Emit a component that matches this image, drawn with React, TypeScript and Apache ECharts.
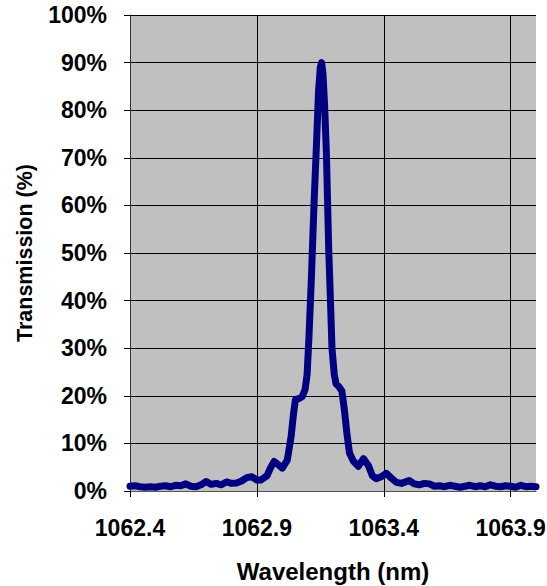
import React, { useEffect, useRef } from "react";
import * as echarts from "echarts";

const wavelength = [
  1062.40, 1062.42, 1062.44, 1062.46, 1062.48, 1062.50, 1062.52, 1062.54, 1062.56, 1062.58,
  1062.60, 1062.62, 1062.64, 1062.66, 1062.68, 1062.70, 1062.72, 1062.74, 1062.76, 1062.78,
  1062.80, 1062.82, 1062.84, 1062.86, 1062.88, 1062.90, 1062.915, 1062.94, 1062.955, 1062.968,
  1062.985, 1063.00, 1063.02, 1063.035, 1063.045, 1063.052, 1063.065, 1063.078, 1063.09, 1063.098,
  1063.105, 1063.115, 1063.125, 1063.135, 1063.143, 1063.150, 1063.155, 1063.160, 1063.167, 1063.174,
  1063.183, 1063.190, 1063.196, 1063.205, 1063.212, 1063.222, 1063.235, 1063.245, 1063.255, 1063.265,
  1063.28, 1063.30, 1063.32, 1063.34, 1063.355, 1063.37, 1063.39, 1063.41, 1063.43, 1063.45,
  1063.47, 1063.50, 1063.52, 1063.54, 1063.56, 1063.58, 1063.60, 1063.62, 1063.64, 1063.66,
  1063.68, 1063.70, 1063.72, 1063.74, 1063.76, 1063.78, 1063.80, 1063.82, 1063.84, 1063.86,
  1063.88, 1063.90, 1063.92, 1063.94, 1063.96, 1063.98, 1064.00,
];

const transmission = [
  1.0, 1.1, 0.9, 0.8, 0.9, 0.8, 1.0, 1.1, 0.9, 1.2,
  1.1, 1.5, 1.0, 0.9, 1.3, 2.0, 1.4, 1.6, 1.3, 1.9,
  1.6, 1.7, 2.1, 2.8, 3.0, 2.3, 2.3, 3.2, 5.0, 6.2,
  5.5, 4.8, 6.5, 11.5, 16.5, 19.2, 19.4, 19.8, 21.3, 24.5,
  32, 45, 60, 73, 84, 89, 90, 88, 81, 71,
  51, 40, 30, 24.5, 22.5, 22, 21, 17, 12, 8,
  6.3, 5.2, 6.8, 5.3, 3.2, 2.6, 3.0, 3.7, 2.7, 1.8,
  1.6, 2.2, 1.5, 1.3, 1.6, 1.5, 1.0, 1.1, 0.9, 1.2,
  1.0, 0.8, 1.0, 1.2, 0.9, 1.1, 0.9, 1.3, 1.0, 0.9,
  1.1, 1.0, 0.8, 1.2, 0.9, 1.0, 0.9,
];

const xTicks = [1062.4, 1062.9, 1063.4, 1063.9];
const xTitle = "Wavelength (nm)";
const yTitle = "Transmission (%)";

const FONT = "'Liberation Sans', Arial, sans-serif";

export default function App() {
  const ref = useRef<HTMLDivElement>(null);

  useEffect(() => {
    if (!ref.current) return;
    const chart = echarts.init(ref.current, undefined, { renderer: "svg" });
    chart.setOption({
      animation: false,
      backgroundColor: "#ffffff",
      grid: {
        left: 130,
        right: 11,
        top: 15,
        bottom: 95,
        show: true,
        backgroundColor: "#C0C0C0",
        borderWidth: 0,
        containLabel: false,
        outerBoundsMode: "none",
      },
      xAxis: {
        type: "value",
        min: 1062.4,
        max: 1064.0,
        name: xTitle,
        nameLocation: "middle",
        nameGap: 68,
        nameTextStyle: { fontFamily: FONT, fontWeight: "bold", fontSize: 24, color: "#000" },
        axisLine: { show: true, lineStyle: { color: "#555", width: 1 } },
        axisTick: { show: true, length: 6, lineStyle: { color: "#000" }, customValues: xTicks },
        axisLabel: {
          customValues: xTicks,
          margin: 25,
          fontFamily: FONT,
          fontWeight: "bold",
          fontSize: 23,
          color: "#000",
          formatter: (v: number) => v.toFixed(1),
        },
        splitLine: { show: true, lineStyle: { color: "#000", width: 1 } },
      },
      yAxis: {
        type: "value",
        min: 0,
        max: 100,
        interval: 10,
        name: yTitle,
        nameLocation: "middle",
        nameGap: 94,
        nameRotate: 90,
        nameTextStyle: { fontFamily: FONT, fontWeight: "bold", fontSize: 21.5, color: "#000" },
        axisLine: { show: true, lineStyle: { color: "#333", width: 1 } },
        axisTick: { show: true, length: 6, lineStyle: { color: "#000" } },
        axisLabel: {
          margin: 23,
          fontFamily: FONT,
          fontWeight: "bold",
          fontSize: 23,
          color: "#000",
          formatter: "{value}%",
        },
        splitLine: { show: true, lineStyle: { color: "#000", width: 1 } },
      },
      series: [
        {
          type: "line",
          data: wavelength.map((w, i) => [w, transmission[i]]),
          showSymbol: false,
          symbol: "none",
          clip: true,
          lineStyle: { color: "#000080", width: 7, cap: "round", join: "round" },
        },
      ],
    });
    return () => chart.dispose();
  }, []);

  return (
    <div
      ref={ref}
      style={{ position: "fixed", left: 0, top: 0, width: 547, height: 586 }}
    />
  );
}
